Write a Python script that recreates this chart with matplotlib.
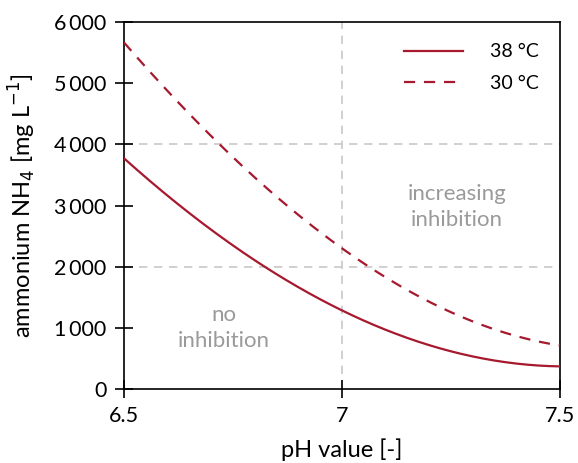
import matplotlib
matplotlib.use('Agg')
import matplotlib.pyplot as plt
import numpy as np

plt.rcParams['font.family'] = ['Lato', 'DejaVu Sans']

# values
ph = [6.5, 6.6, 6.7, 6.8, 6.9, 7.0, 7.1, 7.2, 7.3, 7.4, 7.5]
nh4_38 = [3720, 3240, 2650, 2030, 1630, 1290, 990, 720, 540, 420, 360]
nh4_30 = [5650, 4915, 4100, 3445, 2870, 2320, 1780, 1430, 1130, 855, 710]

yticks = [0, 1000, 2000, 3000, 4000, 5000, 6000]
ytick_labels = ['0', '1\u2009000', '2\u2009000', '3\u2009000', '4\u2009000', '5\u2009000', '6\u2009000']
xticks = [6.5, 7.0, 7.5]
xtick_labels = ['6.5', '7', '7.5']

red = '#a6192e'
grey = '#9a9a9a'

fig = plt.figure(figsize=(5.78, 4.63), dpi=100)
ax = fig.add_axes([0.2145, 0.1598, 0.7545, 0.7927])

# smooth curves through the read points
xs = np.linspace(6.5, 7.5, 200)
c38 = np.polyfit(ph, nh4_38, 3)
c30 = np.polyfit(ph, nh4_30, 3)

for y in [2000, 4000]:
    ax.axhline(y, color='#c8c8c8', ls=(0, (5, 4)), lw=1.2, zorder=1)
ax.axvline(7.0, color='#c8c8c8', ls=(0, (5, 4)), lw=1.2, zorder=1)

ax.plot(xs, np.polyval(c38, xs), color=red, lw=1.6, label='38 °C', zorder=3)
ax.plot(xs, np.polyval(c30, xs), color=red, lw=1.6, ls=(0, (5, 4)), label='30 °C', zorder=3)

ax.text(7.263, 2975, 'increasing\ninhibition', color=grey, fontsize=16,
        ha='center', va='center', linespacing=1.35)
ax.text(6.729, 1000, 'no\ninhibition', color=grey, fontsize=16,
        ha='center', va='center', linespacing=1.35)

ax.set_xlim(6.5, 7.5)
ax.set_ylim(0, 6000)
ax.set_xticks(xticks)
ax.set_xticklabels(xtick_labels)
ax.set_yticks(yticks)
ax.set_yticklabels(ytick_labels)
ax.tick_params(direction='inout', length=13, width=1.2, labelsize=15.5, pad=6)
for s in ax.spines.values():
    s.set_linewidth(1.2)

ax.set_xlabel('pH value [-]', fontsize=17, labelpad=9)
ax.set_ylabel('ammonium NH$_4$ [mg L$^{-1}$]', fontsize=17, labelpad=12)

ax.legend(loc='upper right', frameon=False, fontsize=14, handlelength=3.0,
          handletextpad=1.4, labelspacing=0.75, borderaxespad=0.7,
          borderpad=0.4)

fig.savefig('out.png', dpi=100)
